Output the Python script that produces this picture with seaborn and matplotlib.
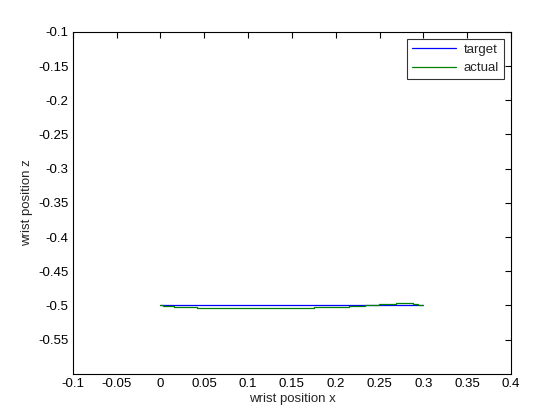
import matplotlib
matplotlib.use("Agg")
import matplotlib.pyplot as plt
import seaborn as sns
import pandas as pd

# data
target_x = [0.0, 0.3]
target_z = [-0.5, -0.5]
actual_x = [0.0, 0.003, 0.003, 0.016, 0.016, 0.042, 0.042, 0.175, 0.175, 0.215, 0.215,
            0.233, 0.233, 0.249, 0.249, 0.269, 0.269, 0.288, 0.288, 0.294, 0.294, 0.3]
actual_z = [-0.5, -0.5, -0.5015, -0.5015, -0.503, -0.503, -0.5044, -0.5044, -0.503, -0.503, -0.5015,
            -0.5015, -0.5, -0.5, -0.4985, -0.4985, -0.497, -0.497, -0.4985, -0.4985, -0.5, -0.5]
xticks = [-0.1, -0.05, 0, 0.05, 0.1, 0.15, 0.2, 0.25, 0.3, 0.35, 0.4]
xtick_labels = ["-0.1", "-0.05", "0", "0.05", "0.1", "0.15", "0.2", "0.25", "0.3", "0.35", "0.4"]
yticks = [-0.55, -0.5, -0.45, -0.4, -0.35, -0.3, -0.25, -0.2, -0.15, -0.1]
ytick_labels = ["-0.55", "-0.5", "-0.45", "-0.4", "-0.35", "-0.3", "-0.25", "-0.2", "-0.15", "-0.1"]

sns.set_style("white")
plt.rcParams['font.family'] = ['Liberation Sans', 'DejaVu Sans']

fig = plt.figure(figsize=(5.6, 4.2), dpi=100)
ax = fig.add_axes([0.130, 0.110, 0.9125 - 0.130, 0.924 - 0.110])

df_t = pd.DataFrame({"x": target_x, "z": target_z})
df_a = pd.DataFrame({"x": actual_x, "z": actual_z})
sns.lineplot(data=df_t, x="x", y="z", ax=ax, color="#0000ff", lw=0.9, sort=False,
             estimator=None, label="target")
sns.lineplot(data=df_a, x="x", y="z", ax=ax, color="#008000", lw=0.9, sort=False,
             estimator=None, label="actual")

fs = 9.5
ax.set_xlim(-0.1, 0.4)
ax.set_ylim(-0.6, -0.1)
ax.set_xticks(xticks)
ax.set_xticklabels(xtick_labels)
ax.set_yticks(yticks)
ax.set_yticklabels(ytick_labels)
ax.tick_params(direction="in", length=4, width=0.8, top=True, right=True, labelsize=fs,
               colors="black", pad=3)
for s in ax.spines.values():
    s.set_color("black")
    s.set_linewidth(0.8)
ax.set_xlabel("wrist position x", fontsize=fs, labelpad=2)
ax.set_ylabel("wrist position z", fontsize=fs)

leg = ax.legend(loc="upper right", fontsize=fs, frameon=True, fancybox=False,
                edgecolor="black", borderpad=0.4, handlelength=3.3, labelspacing=0.45,
                borderaxespad=0.5, handletextpad=0.6)
leg.get_frame().set_linewidth(0.8)

fig.savefig("out.png", dpi=100, facecolor="white")
